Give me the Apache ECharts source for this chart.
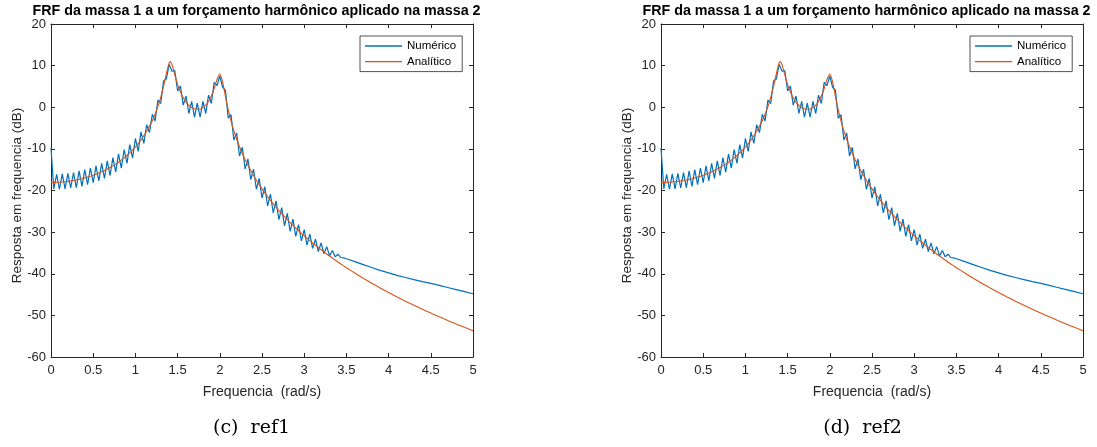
<!DOCTYPE html>
<html>
<head>
<meta charset="utf-8">
<script src="https://cdn.jsdelivr.net/npm/echarts@6/dist/echarts.min.js"></script>
<style>
html,body{margin:0;padding:0;background:#fff;}
#chart{width:1097px;height:447px;}
</style>
</head>
<body>
<div id="chart"></div>
<script>
// Frequency grid (rad/s) shared by both curves
const freq = [
  0, 0.0333, 0.0667, 0.1, 0.1333, 0.1667, 0.2, 0.2333, 0.2667, 0.3,
  0.3333, 0.3667, 0.4, 0.4333, 0.4667, 0.5, 0.5333, 0.5667, 0.6, 0.6333,
  0.6667, 0.7, 0.7333, 0.7667, 0.8, 0.8333, 0.8667, 0.9, 0.9333, 0.9667,
  1, 1.0333, 1.0667, 1.1, 1.1333, 1.1667, 1.2, 1.2333, 1.2667, 1.3,
  1.3333, 1.3667, 1.4, 1.414, 1.4333, 1.4667, 1.5, 1.5333, 1.5667, 1.6,
  1.6333, 1.6667, 1.7, 1.7333, 1.7667, 1.8, 1.8333, 1.8667, 1.9, 1.9333,
  1.9667, 2, 2.0333, 2.0667, 2.1, 2.1333, 2.1667, 2.2, 2.2333, 2.2667,
  2.3, 2.3333, 2.3667, 2.4, 2.4333, 2.4667, 2.5, 2.5333, 2.5667, 2.6,
  2.6333, 2.6667, 2.7, 2.7333, 2.7667, 2.8, 2.8333, 2.8667, 2.9, 2.9333,
  2.9667, 3, 3.0333, 3.0667, 3.1, 3.1333, 3.1667, 3.2, 3.2333, 3.2667,
  3.3, 3.3333, 3.3667, 3.4, 3.4333, 3.4667,
  3.5, 3.6, 3.7, 3.8, 3.9, 4, 4.1, 4.2, 4.3, 4.4, 4.5, 4.6, 4.7, 4.8, 4.9, 5
];
// "Numérico" (dB)
const numerico = [
  -9.8, -19.6, -16.1, -19.7, -16.0, -19.6, -15.9, -19.4, -15.7, -19.3,
  -15.3, -19.0, -15.0, -18.6, -14.6, -18.1, -14.1, -17.7, -13.5, -17.1,
  -12.9, -16.4, -12.1, -15.6, -11.2, -14.6, -10.2, -13.5, -9.0, -12.2,
  -7.5, -10.6, -5.9, -8.7, -4.2, -6.1, -1.7, -3.3, 1.7, 0.9,
  6.3, 6.8, 10.3, 10.0, 8.7, 8.8, 3.9, 5.1, 0.5, 2.7,
  -1.5, 1.4, -2.4, 1.0, -2.4, 1.4, -1.5, 2.9, 0.9, 6.0,
  5.2, 7.5, 4.8, 4.1, -2.6, -1.8, -7.9, -6.2, -11.7, -9.6,
  -14.8, -12.4, -17.4, -14.9, -19.7, -17.1, -21.8, -19.1, -23.7, -20.9,
  -25.4, -22.5, -27.0, -24.1, -28.5, -25.5, -29.8, -26.9, -31.0, -28.2,
  -32.1, -29.4, -33.1, -30.5, -33.9, -31.7, -34.7, -32.6, -35.2, -33.5,
  -35.7, -34.4, -35.9, -35.3, -36.1, -36.2,
  -36.4, -37.1, -37.8, -38.5, -39.2, -39.8, -40.4, -40.9, -41.4, -41.9, -42.3, -42.8, -43.3, -43.8, -44.3, -44.8
];
// "Analítico" (dB)
const analitico = [
  -18.06, -18.05, -18.03, -18.00, -17.95, -17.88, -17.80, -17.70, -17.59, -17.46,
  -17.32, -17.16, -16.98, -16.79, -16.57, -16.34, -16.09, -15.81, -15.52, -15.20,
  -14.86, -14.49, -14.09, -13.66, -13.20, -12.70, -12.17, -11.59, -10.96, -10.28,
  -9.54, -8.73, -7.85, -6.86, -5.77, -4.54, -3.26, -1.68, 0.16, 2.35,
  4.99, 8.08, 10.65, 10.9, 10.24, 7.82, 5.49, 3.67, 2.28, 1.23,
  0.47, -0.07, -0.38, -0.49, -0.40, -0.08, 0.50, 1.40, 2.69, 4.48,
  6.68, 8.00, 6.08, 2.61, -0.61, -3.34, -5.67, -7.70, -9.50, -11.12,
  -12.60, -13.94, -15.22, -16.41, -17.54, -18.60, -19.61, -20.57, -21.49, -22.37,
  -23.22, -24.03, -24.81, -25.57, -26.30, -27.02, -27.70, -28.37, -29.03, -29.66,
  -30.28, -30.88, -31.47, -32.04, -32.61, -33.16, -33.70, -34.22, -34.74, -35.25,
  -35.74, -36.23, -36.71, -37.18, -37.64, -38.10,
  -38.54, -39.84, -41.08, -42.27, -43.41, -44.51, -45.56, -46.58, -47.56, -48.52, -49.44, -50.34, -51.21, -52.05, -52.88, -53.68
];
const seriesNames = ['Numérico', 'Analítico'];
const titleText = 'FRF da massa 1 a um forçamento harmônico aplicado na massa 2';
const xName = 'Frequencia  (rad/s)';
const yName = 'Resposta em frequencia (dB)';
const captions = ['(c)  ref1', '(d)  ref2'];
const xRange = [0, 5, 0.5];
const yRange = [-60, 20, 10];

const FONT = '"Liberation Sans", Arial, Helvetica, sans-serif';
const AX = '#262626';
const panels = [
  {left: 51, titleX: 256.5, capX: 251.5, legendX: 360},
  {left: 661, titleX: 866.5, capX: 862.5, legendX: 970}
];
const GT = 24, GW = 422, GH = 333;

const pairs = a => freq.map((f, i) => [f, a[i]]);

const option = {
  animation: false,
  backgroundColor: '#fff',
  grid: [], xAxis: [], yAxis: [], series: [], legend: [], graphic: []
};

panels.forEach((p, i) => {
  option.grid.push({left: p.left, top: GT, width: GW, height: GH, containLabel: false});
  const axLine = {show: true, onZero: false, lineStyle: {color: AX, width: 1}};
  const axTick = {show: true, inside: true, length: 4, lineStyle: {color: AX, width: 1}};
  option.xAxis.push({
    type: 'value', gridIndex: i, position: 'bottom',
    min: xRange[0], max: xRange[1], interval: xRange[2],
    axisLine: axLine, axisTick: axTick, splitLine: {show: false},
    axisLabel: {color: AX, fontSize: 13, fontFamily: FONT, margin: 7},
    name: xName, nameLocation: 'middle', nameGap: 28,
    nameTextStyle: {color: AX, fontSize: 14, fontFamily: FONT}
  });
  option.xAxis.push({
    type: 'value', gridIndex: i, position: 'top',
    min: xRange[0], max: xRange[1], interval: xRange[2],
    axisLine: axLine, axisTick: axTick, splitLine: {show: false},
    axisLabel: {show: false}
  });
  option.yAxis.push({
    type: 'value', gridIndex: i, position: 'left',
    min: yRange[0], max: yRange[1], interval: yRange[2],
    axisLine: axLine, axisTick: axTick, splitLine: {show: false},
    axisLabel: {color: AX, fontSize: 13, fontFamily: FONT, margin: 5}
  });
  option.yAxis.push({
    type: 'value', gridIndex: i, position: 'right',
    min: yRange[0], max: yRange[1], interval: yRange[2],
    axisLine: axLine, axisTick: axTick, splitLine: {show: false},
    axisLabel: {show: false}
  });
  option.series.push({
    name: seriesNames[0], type: 'line', xAxisIndex: 2 * i, yAxisIndex: 2 * i,
    data: pairs(numerico), symbol: 'none', showSymbol: false,
    lineStyle: {color: '#0072BD', width: 1.2}, itemStyle: {color: '#0072BD'}
  });
  option.series.push({
    name: seriesNames[1], type: 'line', xAxisIndex: 2 * i, yAxisIndex: 2 * i,
    data: pairs(analitico), symbol: 'none', showSymbol: false, smooth: 0.2,
    lineStyle: {color: '#D95319', width: 1.1}, itemStyle: {color: '#D95319'}
  });
  option.legend.push({
    data: seriesNames, orient: 'vertical', left: p.legendX, top: 36,
    icon: 'rect', itemWidth: 37, itemHeight: 1.4, itemGap: 1.6,
    padding: [3, 6, 3, 5], borderColor: AX, borderWidth: 0.8, backgroundColor: '#fff',
    selectedMode: false,
    textStyle: {fontFamily: FONT, fontSize: 11.5, color: '#000', lineHeight: 14}
  });
  option.graphic.push({
    type: 'text', x: p.titleX, y: 4, silent: true,
    style: {text: titleText, font: 'bold 14.3px ' + FONT, fill: '#000', align: 'center', verticalAlign: 'top'}
  });
  option.graphic.push({
    type: 'text', x: p.left - 33.5, y: GT + GH / 2 + 5, rotation: Math.PI / 2, silent: true,
    style: {text: yName, font: '13.5px ' + FONT, fill: AX, align: 'center', verticalAlign: 'middle'}
  });
  option.graphic.push({
    type: 'text', x: p.capX, y: 428, silent: true,
    style: {text: captions[i], font: '19px "DejaVu Serif", serif', fill: '#000', align: 'center', verticalAlign: 'middle'}
  });
});

const chart = echarts.init(document.getElementById('chart'), null, {renderer: 'canvas'});
chart.setOption(option);
</script>
</body>
</html>
